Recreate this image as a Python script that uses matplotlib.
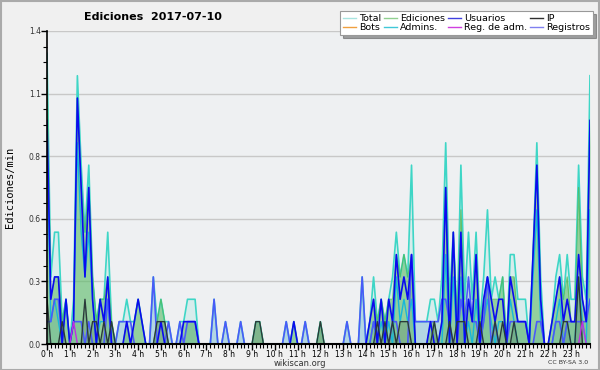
import numpy as np
import matplotlib
matplotlib.use('agg')
import matplotlib.pyplot as plt
from matplotlib.ticker import MultipleLocator
from matplotlib.patches import Rectangle

# 10-minute bins, 6 per hour, values in edits/min
total = [
    1.3, 0.3, 0.5, 0.5, 0.1, 0.2,   # 0h
    0.0, 0.2, 1.2, 0.8, 0.5, 0.8,   # 1h
    0.3, 0.1, 0.2, 0.2, 0.5, 0.1,   # 2h
    0.0, 0.1, 0.1, 0.2, 0.1, 0.1,   # 3h
    0.2, 0.1, 0.0, 0.0, 0.3, 0.1,   # 4h
    0.2, 0.1, 0.1, 0.0, 0.0, 0.1,   # 5h
    0.1, 0.2, 0.2, 0.2, 0.0, 0.0,   # 6h
    0.0, 0.0, 0.2, 0.0, 0.0, 0.1,   # 7h
    0.0, 0.0, 0.0, 0.1, 0.0, 0.0,   # 8h
    0.0, 0.1, 0.1, 0.0, 0.0, 0.0,   # 9h
    0.0, 0.0, 0.0, 0.1, 0.0, 0.1,   # 10h
    0.0, 0.0, 0.1, 0.0, 0.0, 0.0,   # 11h
    0.1, 0.0, 0.0, 0.0, 0.0, 0.0,   # 12h
    0.0, 0.1, 0.0, 0.0, 0.0, 0.3,   # 13h
    0.0, 0.1, 0.3, 0.1, 0.2, 0.1,   # 14h
    0.2, 0.3, 0.5, 0.3, 0.4, 0.3,   # 15h
    0.8, 0.1, 0.1, 0.1, 0.1, 0.2,   # 16h
    0.2, 0.1, 0.3, 0.9, 0.2, 0.5,   # 17h
    0.1, 0.8, 0.2, 0.5, 0.2, 0.5,   # 18h
    0.1, 0.3, 0.6, 0.2, 0.3, 0.2,   # 19h
    0.3, 0.0, 0.4, 0.4, 0.2, 0.2,   # 20h
    0.2, 0.0, 0.4, 0.9, 0.3, 0.0,   # 21h
    0.0, 0.1, 0.3, 0.4, 0.2, 0.4,   # 22h
    0.2, 0.2, 0.8, 0.3, 0.2, 1.2,   # 23h
]
ediciones = [
    1.2, 0.2, 0.3, 0.3, 0.1, 0.2,
    0.0, 0.1, 1.1, 0.7, 0.5, 0.7,
    0.3, 0.1, 0.2, 0.2, 0.3, 0.1,
    0.0, 0.0, 0.0, 0.1, 0.0, 0.1,
    0.2, 0.1, 0.0, 0.0, 0.0, 0.1,
    0.2, 0.1, 0.0, 0.0, 0.0, 0.0,
    0.1, 0.1, 0.1, 0.1, 0.0, 0.0,
    0.0, 0.0, 0.0, 0.0, 0.0, 0.0,
    0.0, 0.0, 0.0, 0.0, 0.0, 0.0,
    0.0, 0.1, 0.1, 0.0, 0.0, 0.0,
    0.0, 0.0, 0.0, 0.0, 0.0, 0.1,
    0.0, 0.0, 0.0, 0.0, 0.0, 0.0,
    0.1, 0.0, 0.0, 0.0, 0.0, 0.0,
    0.0, 0.0, 0.0, 0.0, 0.0, 0.0,
    0.0, 0.1, 0.2, 0.1, 0.2, 0.1,
    0.2, 0.2, 0.4, 0.3, 0.4, 0.3,
    0.4, 0.0, 0.0, 0.0, 0.0, 0.1,
    0.1, 0.0, 0.1, 0.7, 0.1, 0.5,
    0.1, 0.6, 0.1, 0.2, 0.1, 0.4,
    0.1, 0.2, 0.3, 0.2, 0.2, 0.2,
    0.3, 0.0, 0.3, 0.3, 0.1, 0.1,
    0.1, 0.0, 0.4, 0.8, 0.2, 0.0,
    0.0, 0.1, 0.2, 0.3, 0.2, 0.3,
    0.1, 0.1, 0.7, 0.2, 0.1, 1.0,
]
usuarios = [
    1.0, 0.2, 0.3, 0.3, 0.0, 0.2,
    0.0, 0.1, 1.1, 0.7, 0.3, 0.7,
    0.2, 0.0, 0.2, 0.1, 0.3, 0.0,
    0.0, 0.0, 0.0, 0.1, 0.0, 0.1,
    0.2, 0.1, 0.0, 0.0, 0.0, 0.0,
    0.1, 0.0, 0.0, 0.0, 0.0, 0.0,
    0.1, 0.1, 0.1, 0.1, 0.0, 0.0,
    0.0, 0.0, 0.0, 0.0, 0.0, 0.0,
    0.0, 0.0, 0.0, 0.0, 0.0, 0.0,
    0.0, 0.0, 0.0, 0.0, 0.0, 0.0,
    0.0, 0.0, 0.0, 0.0, 0.0, 0.1,
    0.0, 0.0, 0.0, 0.0, 0.0, 0.0,
    0.0, 0.0, 0.0, 0.0, 0.0, 0.0,
    0.0, 0.0, 0.0, 0.0, 0.0, 0.0,
    0.0, 0.1, 0.2, 0.0, 0.2, 0.0,
    0.2, 0.1, 0.4, 0.2, 0.3, 0.2,
    0.4, 0.0, 0.0, 0.0, 0.0, 0.1,
    0.0, 0.0, 0.1, 0.7, 0.0, 0.5,
    0.0, 0.5, 0.0, 0.2, 0.1, 0.4,
    0.0, 0.2, 0.3, 0.2, 0.1, 0.2,
    0.2, 0.0, 0.3, 0.2, 0.1, 0.1,
    0.1, 0.0, 0.4, 0.8, 0.2, 0.0,
    0.0, 0.1, 0.2, 0.3, 0.1, 0.2,
    0.1, 0.1, 0.4, 0.2, 0.1, 1.0,
]
ip = [
    0.2, 0.0, 0.0, 0.0, 0.1, 0.0,
    0.0, 0.0, 0.0, 0.0, 0.2, 0.0,
    0.1, 0.1, 0.0, 0.1, 0.0, 0.1,
    0.0, 0.0, 0.0, 0.0, 0.0, 0.0,
    0.0, 0.0, 0.0, 0.0, 0.0, 0.1,
    0.1, 0.1, 0.0, 0.0, 0.0, 0.0,
    0.0, 0.0, 0.0, 0.0, 0.0, 0.0,
    0.0, 0.0, 0.0, 0.0, 0.0, 0.0,
    0.0, 0.0, 0.0, 0.0, 0.0, 0.0,
    0.0, 0.1, 0.1, 0.0, 0.0, 0.0,
    0.0, 0.0, 0.0, 0.0, 0.0, 0.0,
    0.0, 0.0, 0.0, 0.0, 0.0, 0.0,
    0.1, 0.0, 0.0, 0.0, 0.0, 0.0,
    0.0, 0.0, 0.0, 0.0, 0.0, 0.0,
    0.0, 0.0, 0.0, 0.1, 0.0, 0.1,
    0.0, 0.1, 0.0, 0.1, 0.1, 0.1,
    0.0, 0.0, 0.0, 0.0, 0.0, 0.0,
    0.1, 0.0, 0.0, 0.0, 0.1, 0.0,
    0.1, 0.1, 0.1, 0.0, 0.0, 0.0,
    0.1, 0.0, 0.0, 0.0, 0.1, 0.0,
    0.1, 0.0, 0.0, 0.1, 0.0, 0.0,
    0.0, 0.0, 0.0, 0.0, 0.0, 0.0,
    0.0, 0.0, 0.0, 0.0, 0.1, 0.1,
    0.0, 0.0, 0.3, 0.0, 0.0, 0.0,
]
registros = [
    0.1, 0.1, 0.2, 0.2, 0.0, 0.0,
    0.0, 0.1, 0.1, 0.1, 0.0, 0.1,
    0.0, 0.0, 0.0, 0.0, 0.2, 0.0,
    0.0, 0.1, 0.1, 0.1, 0.1, 0.0,
    0.0, 0.0, 0.0, 0.0, 0.3, 0.0,
    0.0, 0.0, 0.1, 0.0, 0.0, 0.1,
    0.0, 0.1, 0.1, 0.1, 0.0, 0.0,
    0.0, 0.0, 0.2, 0.0, 0.0, 0.1,
    0.0, 0.0, 0.0, 0.1, 0.0, 0.0,
    0.0, 0.0, 0.0, 0.0, 0.0, 0.0,
    0.0, 0.0, 0.0, 0.1, 0.0, 0.0,
    0.0, 0.0, 0.1, 0.0, 0.0, 0.0,
    0.0, 0.0, 0.0, 0.0, 0.0, 0.0,
    0.0, 0.1, 0.0, 0.0, 0.0, 0.3,
    0.0, 0.0, 0.1, 0.0, 0.0, 0.0,
    0.0, 0.1, 0.1, 0.0, 0.0, 0.0,
    0.4, 0.1, 0.1, 0.1, 0.1, 0.1,
    0.1, 0.1, 0.2, 0.2, 0.1, 0.0,
    0.0, 0.2, 0.1, 0.3, 0.1, 0.1,
    0.0, 0.1, 0.3, 0.0, 0.1, 0.0,
    0.0, 0.0, 0.1, 0.1, 0.1, 0.1,
    0.1, 0.0, 0.0, 0.1, 0.1, 0.0,
    0.0, 0.0, 0.1, 0.1, 0.0, 0.1,
    0.1, 0.1, 0.1, 0.1, 0.1, 0.2,
]
admins = [
    0.9, 0.1, 0.2, 0.1, 0.0, 0.2,
    0.0, 0.1, 0.9, 0.5, 0.3, 0.5,
    0.2, 0.0, 0.1, 0.1, 0.2, 0.0,
    0.0, 0.0, 0.0, 0.0, 0.0, 0.0,
    0.0, 0.0, 0.0, 0.0, 0.0, 0.0,
    0.0, 0.0, 0.0, 0.0, 0.0, 0.0,
    0.0, 0.0, 0.0, 0.0, 0.0, 0.0,
    0.0, 0.0, 0.0, 0.0, 0.0, 0.0,
    0.0, 0.0, 0.0, 0.0, 0.0, 0.0,
    0.0, 0.0, 0.0, 0.0, 0.0, 0.0,
    0.0, 0.0, 0.0, 0.0, 0.0, 0.0,
    0.0, 0.0, 0.0, 0.0, 0.0, 0.0,
    0.0, 0.0, 0.0, 0.0, 0.0, 0.0,
    0.0, 0.0, 0.0, 0.0, 0.0, 0.0,
    0.0, 0.0, 0.1, 0.0, 0.1, 0.0,
    0.1, 0.0, 0.3, 0.1, 0.2, 0.1,
    0.2, 0.0, 0.0, 0.0, 0.0, 0.0,
    0.0, 0.0, 0.0, 0.4, 0.0, 0.3,
    0.0, 0.3, 0.0, 0.1, 0.0, 0.2,
    0.0, 0.1, 0.2, 0.1, 0.0, 0.1,
    0.1, 0.0, 0.2, 0.1, 0.0, 0.0,
    0.0, 0.0, 0.3, 0.6, 0.1, 0.0,
    0.0, 0.0, 0.1, 0.2, 0.0, 0.1,
    0.0, 0.0, 0.3, 0.1, 0.0, 0.6,
]
reg_adm = [0.0] * 144
reg_adm[7] = 0.1
reg_adm[141] = 0.1
bots = [0.0] * 144

hour_labels = ["%d h" % h for h in range(24)]
y_ticks = [0.0, 0.28, 0.56, 0.84, 1.12, 1.4]
y_labels = ["0.0", "0.3", "0.6", "0.8", "1.1", "1.4"]

x = np.arange(len(total))

fig = plt.figure(figsize=(6, 3.7), dpi=100, facecolor='#f0f0f0')
fig.patches.append(Rectangle((0.001, 0.001), 0.997, 0.996, transform=fig.transFigure,
                             fill=False, edgecolor='#aaaaaa', linewidth=1.5))
ax = fig.add_axes([47/600, 1-344/370, 543/600, 313/370])
ax.set_facecolor('#eef0f2')

# fills
ax.fill_between(x, total, color='#40d8c8', alpha=0.13, linewidth=0)
ax.fill_between(x, registros, color='#9cc8de', alpha=0.6, linewidth=0)
ax.fill_between(x, ediciones, color='#5cb85c', alpha=0.55, linewidth=0)
ax.fill_between(x, ip, color='#4a6a5a', alpha=0.25, linewidth=0)

# lines
ax.plot(x, total, color='#3ed6c6', lw=1.2)
ax.plot(x, ediciones, color='#50b850', lw=0.9, alpha=0.7)
ax.plot(x, admins, color='#18b8d8', lw=1.0)
ax.plot(x, registros, color='#4a5af8', lw=1.2)
ax.plot(x, usuarios, color='#0a0af0', lw=1.2)
ax.plot(x, ip, color='#2a3a3a', lw=1.0)
ax.plot(x, reg_adm, color='#c030e0', lw=1.0)

ax.set_xlim(0, 143)
ax.set_ylim(0, 1.4)
ax.set_yticks(y_ticks)
ax.set_yticklabels(y_labels)
ax.yaxis.set_minor_locator(MultipleLocator(0.07))
ax.set_xticks(np.arange(0, 144, 6))
ax.set_xticklabels(hour_labels)
ax.xaxis.set_minor_locator(MultipleLocator(1))
ax.tick_params(axis='both', which='major', labelsize=5.5, length=4, width=1, pad=0.5, colors='black')
ax.tick_params(axis='both', which='minor', length=3, width=0.8)
ax.tick_params(axis='y', labelcolor='#333333')
ax.grid(axis='y', color='#c8c8c8', lw=1)
ax.set_axisbelow(True)
for s in ['top', 'right']:
    ax.spines[s].set_visible(False)
ax.spines['left'].set_linewidth(1.2)
ax.spines['bottom'].set_linewidth(1.5)

ax.set_ylabel("Ediciones/min", family='DejaVu Sans Mono', fontsize=7.5, labelpad=10)

fig.text(153/600, 1-17/370, "Ediciones  2017-07-10", ha='center', va='center',
         fontsize=8, weight='bold')
fig.text(300/600, 1-363/370, "wikiscan.org", ha='center', va='center', fontsize=6, color='#333333')
fig.text(588/600, 1-362/370, "CC BY-SA 3.0", ha='right', va='center', fontsize=4.5, color='#333333')

leg_names = ["Total", "Bots", "Ediciones", "Admins.", "Usuarios", "Reg. de adm.", "IP", "Registros"]
leg_colors = ['#a8e4e0', '#f0a040', '#90d090', '#40c8d8', '#4040e0', '#d040e0', '#303030', '#8080f0']
handles = [plt.Line2D([], [], color=c, lw=1) for c in leg_colors]
leg = fig.legend(handles, leg_names, ncol=4, loc='upper right', bbox_to_anchor=(593/600, 1-11/370),
                 fontsize=6.8, frameon=True, fancybox=False, shadow=True, framealpha=1,
                 edgecolor='#999999', handlelength=1.4, handletextpad=0.3, columnspacing=0.3,
                 labelspacing=0.05, borderpad=0.3, borderaxespad=0)
leg.get_frame().set_linewidth(0.8)

fig.savefig("out.png", dpi=100, facecolor=fig.get_facecolor())
